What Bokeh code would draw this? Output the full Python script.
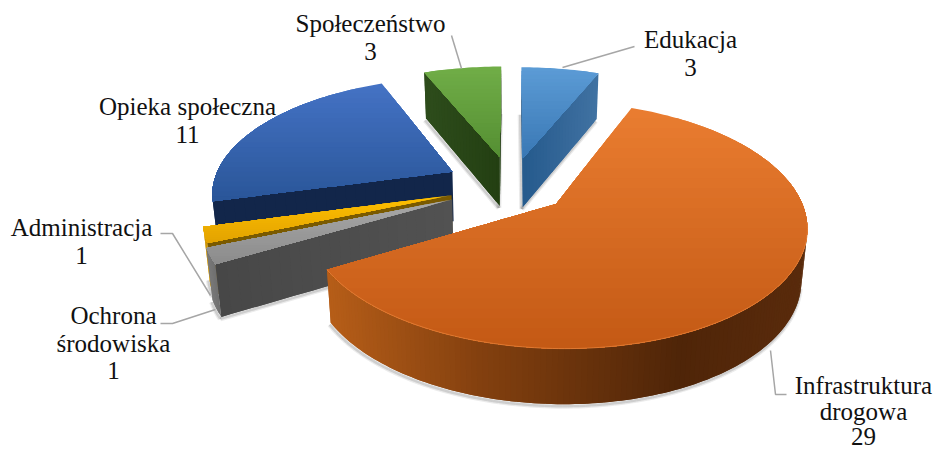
import math
from bokeh.embed import file_html
from bokeh.resources import INLINE
from bokeh.models import ColumnDataSource, Range1d
from bokeh.plotting import figure
from bokeh.core.properties import value

# ---- data, clockwise from 12 o'clock ----
names = ["Edukacja", "Infrastruktura drogowa", "Ochrona środowiska",
         "Administracja", "Opieka społeczna", "Społeczeństwo"]
values = [3, 29, 1, 1, 11, 3]
label_lines = [["Edukacja"], ["Infrastruktura", "drogowa"], ["Ochrona", "środowiska"],
               ["Administracja"], ["Opieka społeczna"], ["Społeczeństwo"]]

# ---- style ----
explode = [0.255, 0.24, 0.27, 0.26, 0.28, 0.265]
top_stops = [("#5B9BD5", "#3A78B5"), ("#E97C30", "#C45A15"), ("#A8A8A8", "#8C8C8C"),
             ("#FFC000", "#E3A300"), ("#4472C4", "#2A5699"), ("#70AD47", "#558F33")]
arc_stops = [[(520, "#3F70A0"), (600, "#3F70A0")],
             [(330, "#B55D18"), (480, "#83400F"), (680, "#4F2508"), (810, "#5A2B0C")],
             [(205, "#7A7A7A"), (220, "#6A6A6A")],
             [(200, "#D49A00"), (215, "#C08A00")],
             [(210, "#1E3F78"), (260, "#12264A")],
             [(420, "#2E4D1C"), (500, "#2E4D1C")]]
rad_stops = [[(522, "#255A8C"), (601, "#4273A3")],
             [(330, "#B55D18"), (640, "#B55D18")],
             [(215, "#474747"), (455, "#525252")],
             [(205, "#7A5A00"), (455, "#7A5A00")],
             [(215, "#12264A"), (455, "#12264A")],
             [(421, "#2E4D1C"), (500, "#233F12")]]
draw_order = [5, 0, 4, 3, 2, 1]

CX, CY, RX, RY, PERSP, DEPTH, TAPER = 511, 185, 240, 114, 0.1645, 50, 0.98
W, H = 939, 452
X0, Y0 = 0, 0


def project(u, v):
    s = 1 / (1 + PERSP * v)
    return CX + RX * u * s, CY - RY * v * s, DEPTH * s ** 0.5


def down(pt):
    x, y, d = pt
    return CX + (x - CX) * TAPER, y + d


def mix(c0, c1, t):
    a = [int(c0[i:i + 2], 16) for i in (1, 3, 5)]
    b = [int(c1[i:i + 2], 16) for i in (1, 3, 5)]
    return "#%02x%02x%02x" % tuple(round(p + (q - p) * t) for p, q in zip(a, b))


def ramp(stops, x):
    if x <= stops[0][0]:
        return stops[0][1]
    for (x0, c0), (x1, c1) in zip(stops, stops[1:]):
        if x <= x1:
            return mix(c0, c1, (x - x0) / (x1 - x0))
    return stops[-1][1]


def clip_below(poly, y0):
    out = []
    for (a, b) in zip(poly, poly[1:] + poly[:1]):
        ina, inb = a[1] >= y0, b[1] >= y0
        if ina:
            out.append(a)
        if ina != inb:
            t = (y0 - a[1]) / (b[1] - a[1])
            out.append((a[0] + (b[0] - a[0]) * t, y0))
    return out


total = sum(values)
xs, ys, cols = [], [], []
sh_x, sh_y = [], []
rim_lines_x, rim_lines_y, rim_col = [], [], []
start = 0.0
slices = []
for i, val in enumerate(values):
    sweep = 2 * math.pi * val / total
    slices.append((start, start + sweep))
    start += sweep

for i in draw_order:
    a0, a1 = slices[i]
    bis = (a0 + a1) / 2
    eu, ev = explode[i] * math.sin(bis), explode[i] * math.cos(bis)
    n_arc = max(6, int((a1 - a0) / 0.02))
    n_rad = 24
    arc = [project(eu + math.sin(a0 + (a1 - a0) * j / n_arc), ev + math.cos(a0 + (a1 - a0) * j / n_arc))
           for j in range(n_arc + 1)]
    r_in = [project(eu + math.sin(a0) * j / n_rad, ev + math.cos(a0) * j / n_rad) for j in range(n_rad)]
    r_out = [project(eu + math.sin(a1) * (n_rad - j) / n_rad, ev + math.cos(a1) * (n_rad - j) / n_rad) for j in range(1, n_rad + 1)]
    ring = r_in + arc + r_out
    kinds = ["r"] * n_rad + ["a"] * n_arc + ["r"] * (n_rad + 1)
    for j in range(len(ring)):
        p, q = ring[j], ring[(j + 1) % len(ring)]
        dp, dq = down(p), down(q)
        quad = [(p[0], p[1]), (q[0], q[1]), dq, dp]
        area = sum(quad[k][0] * quad[(k + 1) % 4][1] - quad[(k + 1) % 4][0] * quad[k][1] for k in range(4))
        if area >= 0:   # only the walls that face the viewer
            continue
        # each strip reaches over the next one, so no seams show between strips
        jn = (j + 2) % len(ring)
        if kinds[(j + 1) % len(ring)] == kinds[j]:
            q2 = ring[jn]
        else:
            q2 = q
        dq2 = down(q2)
        quad2 = [(p[0], p[1]), (q[0], q[1]), (q2[0], q2[1]), dq2, dq, dp]
        stops = arc_stops[i] if kinds[j] == "a" else rad_stops[i]
        c = ramp(stops, (p[0] + q[0]) / 2)
        xs.append([pt[0] for pt in quad2]); ys.append([pt[1] for pt in quad2]); cols.append(c)
        sh_x.append([dp[0] - 1, dq[0] - 1]); sh_y.append([dp[1] + 2, dq[1] + 2])
    poly = [(pt[0], pt[1]) for pt in ring]
    ymin, ymax = min(pt[1] for pt in poly), max(pt[1] for pt in poly)
    bands = 24
    for b in range(bands):
        y0 = ymin + (ymax - ymin) * b / bands
        piece = poly if b == 0 else clip_below(poly, y0)
        if len(piece) >= 3:
            xs.append([pt[0] for pt in piece]); ys.append([pt[1] for pt in piece])
            cols.append(mix(top_stops[i][0], top_stops[i][1], b / (bands - 1)))
    if i == 1:
        rim_lines_x.append([pt[0] for pt in arc[int(n_arc * 0.35):]])
        rim_lines_y.append([pt[1] for pt in arc[int(n_arc * 0.35):]])
        rim_col.append("#E5813A")

p = figure(width=W, height=H, output_backend="svg", toolbar_location=None,
           x_range=Range1d(X0, X0 + W), y_range=Range1d(Y0 + H, Y0), min_border=0,
           outline_line_color=None, background_fill_color="white", border_fill_color="white")
p.axis.visible = False
p.grid.visible = False
p.xaxis.visible = False
p.yaxis.visible = False

p.multi_line(sh_x, sh_y, line_color="#000000", line_alpha=0.08, line_width=5)
p.multi_line(sh_x, sh_y, line_color="#000000", line_alpha=0.12, line_width=2.5)
p.patches("x", "y", fill_color="c", line_color=None,
          source=ColumnDataSource(dict(x=xs, y=ys, c=cols)))
p.multi_line(rim_lines_x, rim_lines_y, line_color=rim_col[0], line_width=1.0, line_alpha=0.8)

# leader lines (annotation layout)
leader_paths = [[(562, 67), (634, 46)],
                [(461, 68), (451, 35)],
                [(160, 233), (172, 233), (210, 295)],
                [(160, 323), (172, 323), (215, 309)],
                [(770, 350), (775, 394), (786, 394)]]
p.multi_line([[q[0] for q in l] for l in leader_paths], [[q[1] for q in l] for l in leader_paths],
             line_color="#A6A6A6", line_width=1.5)

# labels: name lines + value
label_pos = [(690, 39), (863, 385), (113, 315), (81, 227), (187, 106), (370, 23)]
line_step = [27.5, 25.5, 27.5, 27.5, 27.5, 27.5]
tx, ty, tt = [], [], []
for lines, v, (lx, ly), step in zip(label_lines, values, label_pos, line_step):
    for k, s in enumerate(lines + [str(v)]):
        tx.append(lx); ty.append(ly + k * step); tt.append(s)
p.text(tx, ty, text=tt, text_font=value("Liberation Serif"), text_font_size="25px",
       text_color="#111111", text_align="center", text_baseline="middle")

open("out.html", "w").write(file_html(p, INLINE))
